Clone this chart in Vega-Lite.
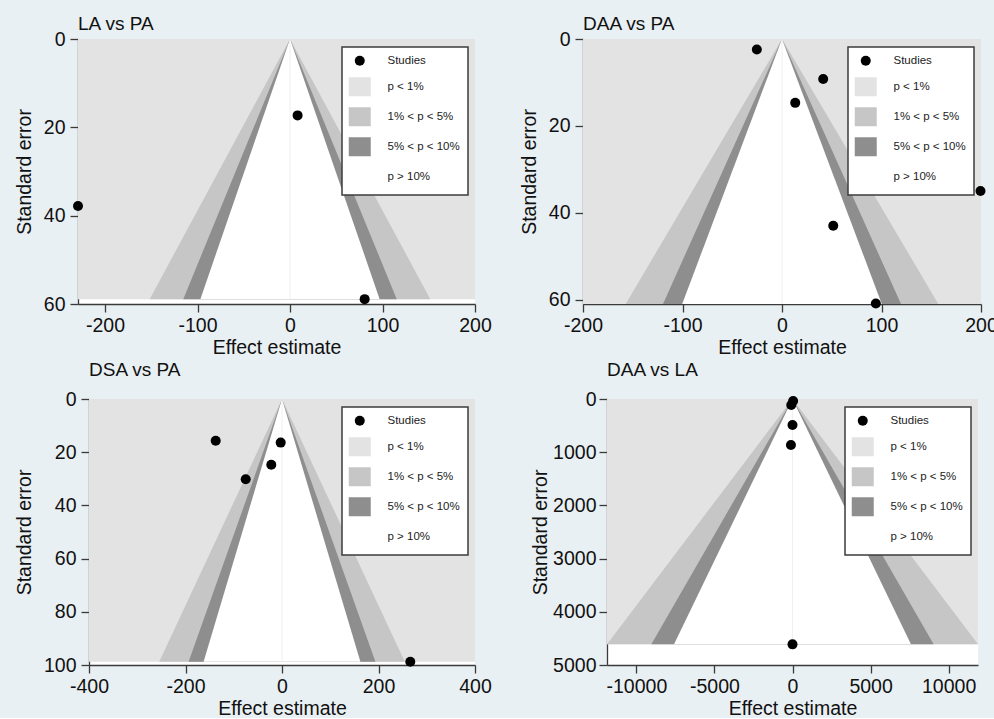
{
  "$schema": "https://vega.github.io/schema/vega-lite/v6.json",
  "background": "#e9f0f3",
  "padding": {"left": 0, "top": 15, "right": 0, "bottom": 0},
  "config": {
    "font": "Liberation Sans",
    "view": {"fill": "white", "stroke": null},
    "locale": {"number": {"decimal": ".", "thousands": "", "grouping": [3], "currency": ["", ""], "minus": "-"}},
    "axis": {
      "domainColor": "#3a3a3a", "tickColor": "#3a3a3a", "domainWidth": 1.3, "tickWidth": 1.3, "tickSize": 8,
      "labelFont": "Liberation Sans", "titleFont": "Liberation Sans",
      "labelFontSize": 19.5, "titleFontSize": 19.5, "labelColor": "#111111", "titleColor": "#111111",
      "titleFontWeight": "normal", "grid": false, "labelFlush": false, "labelOverlap": false, "format": "d"
    },
    "axisX": {"labelPadding": 4, "titlePadding": 4},
    "axisY": {"labelPadding": 5, "titlePadding": 9},
    "title": {"font": "Liberation Sans", "fontSize": 19, "fontWeight": "normal", "anchor": "start", "frame": "group", "color": "#111111", "baseline": "alphabetic"},
    "legend": {
      "orient": "top-right", "offset": 7.5, "title": null,
      "fillColor": "white", "strokeColor": "#3c3c3c", "strokeWidth": 1.5,
      "padding": 8, "rowPadding": 10, "labelOffset": 22, "symbolOffset": 4, "symbolSize": 100, "symbolStrokeWidth": 0,
      "labelFont": "Liberation Sans", "labelFontSize": 11.5, "labelColor": "#222222"
    }
  },
  "columns": 4,
  "align": "none",
  "spacing": {"row": 4, "column": 13},
  "resolve": {
    "scale": {"x": "independent", "y": "independent", "color": "independent", "shape": "independent"},
    "legend": {"color": "independent", "shape": "independent"}
  },
  "concat": [
    {"width": 1, "height": 1, "view": {"fill": null, "stroke": null}, "data": {"values": []}, "mark": "point"},
    {
      "width": 397, "height": 265,
      "title": {"text": "LA vs PA", "offset": -5},
      "data": {"values": [
        {"k": "region", "x": -229.2, "x2": 200, "y": 0, "y2": 58.9},
        {"k": "c99", "y": 0, "x": 0, "x2": 0}, {"k": "c99", "y": 58.9, "x": -151.7, "x2": 151.7},
        {"k": "c95", "y": 0, "x": 0, "x2": 0}, {"k": "c95", "y": 58.9, "x": -115.4, "x2": 115.4},
        {"k": "c90", "y": 0, "x": 0, "x2": 0}, {"k": "c90", "y": 58.9, "x": -96.9, "x2": 96.9},
        {"k": "null", "x": 0, "y": 0, "y2": 58.9},
        {"k": "study", "region": "Studies", "x": -229.2, "y": 37.8},
        {"k": "study", "region": "Studies", "x": 8.2, "y": 17.3},
        {"k": "study", "region": "Studies", "x": 80.7, "y": 58.9}
      ]},
      "encoding": {
        "x": {"field": "x", "type": "quantitative", "title": "Effect estimate",
              "scale": {"domain": [-229.2, 200], "nice": false, "zero": false},
              "axis": {"values": [-200, -100, 0, 100, 200]}},
        "y": {"field": "y", "type": "quantitative", "title": "Standard error",
              "scale": {"domain": [0, 60], "nice": false, "reverse": true},
              "axis": {"values": [0, 20, 40, 60]}}
      },
      "layer": [
        {"transform": [{"filter": "datum.k === 'region'"}], "mark": {"type": "rect", "color": "#e3e3e3"},
         "encoding": {"x2": {"field": "x2"}, "y2": {"field": "y2"}}},
        {"transform": [{"filter": "datum.k === 'c99'"}], "mark": {"type": "area", "orient": "horizontal", "color": "#c6c6c6"},
         "encoding": {"x2": {"field": "x2"}}},
        {"transform": [{"filter": "datum.k === 'c95'"}], "mark": {"type": "area", "orient": "horizontal", "color": "#8e8e8e"},
         "encoding": {"x2": {"field": "x2"}}},
        {"transform": [{"filter": "datum.k === 'c90'"}], "mark": {"type": "area", "orient": "horizontal", "color": "#ffffff"},
         "encoding": {"x2": {"field": "x2"}}},
        {"transform": [{"filter": "datum.k === 'null'"}], "mark": {"type": "rule", "color": "#f0f0f0", "strokeWidth": 1},
         "encoding": {"y2": {"field": "y2"}}},
        {"transform": [{"filter": "datum.k === 'study'"}], "mark": {"type": "point", "filled": true, "opacity": 1, "size": 100},
         "encoding": {
           "color": {"field": "region", "type": "nominal",
                     "scale": {"domain": ["Studies", "p < 1%", "1% < p < 5%", "5% < p < 10%", "p > 10%"], "range": ["#000000", "#e3e3e3", "#c6c6c6", "#8e8e8e", "#ffffff"]}},
           "shape": {"field": "region", "type": "nominal",
                     "scale": {"domain": ["Studies", "p < 1%", "1% < p < 5%", "5% < p < 10%", "p > 10%"], "range": ["circle", "M-2.2,-1.9H2.2V1.9H-2.2Z", "M-2.2,-1.9H2.2V1.9H-2.2Z", "M-2.2,-1.9H2.2V1.9H-2.2Z", "M-2.2,-1.9H2.2V1.9H-2.2Z"]}}
         }}
      ]
    },
    {"width": 1, "height": 1, "view": {"fill": null, "stroke": null}, "data": {"values": []}, "mark": "point"},
    {
      "width": 398, "height": 265,
      "title": {"text": "DAA vs PA", "offset": -5},
      "data": {"values": [
        {"k": "region", "x": -200, "x2": 200, "y": 0, "y2": 61.0},
        {"k": "c99", "y": 0, "x": 0, "x2": 0}, {"k": "c99", "y": 61.0, "x": -157.1, "x2": 157.1},
        {"k": "c95", "y": 0, "x": 0, "x2": 0}, {"k": "c95", "y": 61.0, "x": -119.6, "x2": 119.6},
        {"k": "c90", "y": 0, "x": 0, "x2": 0}, {"k": "c90", "y": 61.0, "x": -100.3, "x2": 100.3},
        {"k": "null", "x": 0, "y": 0, "y2": 61.0},
        {"k": "study", "region": "Studies", "x": -25.3, "y": 2.4},
        {"k": "study", "region": "Studies", "x": 41.4, "y": 9.2},
        {"k": "study", "region": "Studies", "x": 13.3, "y": 14.7},
        {"k": "study", "region": "Studies", "x": 199.5, "y": 35.0},
        {"k": "study", "region": "Studies", "x": 51.5, "y": 43.0},
        {"k": "study", "region": "Studies", "x": 94.3, "y": 60.9}
      ]},
      "encoding": {
        "x": {"field": "x", "type": "quantitative", "title": "Effect estimate",
              "scale": {"domain": [-200, 200], "nice": false, "zero": false},
              "axis": {"values": [-200, -100, 0, 100, 200]}},
        "y": {"field": "y", "type": "quantitative", "title": "Standard error",
              "scale": {"domain": [0, 61], "nice": false, "reverse": true},
              "axis": {"values": [0, 20, 40, 60]}}
      },
      "layer": [
        {"transform": [{"filter": "datum.k === 'region'"}], "mark": {"type": "rect", "color": "#e3e3e3"},
         "encoding": {"x2": {"field": "x2"}, "y2": {"field": "y2"}}},
        {"transform": [{"filter": "datum.k === 'c99'"}], "mark": {"type": "area", "orient": "horizontal", "color": "#c6c6c6"},
         "encoding": {"x2": {"field": "x2"}}},
        {"transform": [{"filter": "datum.k === 'c95'"}], "mark": {"type": "area", "orient": "horizontal", "color": "#8e8e8e"},
         "encoding": {"x2": {"field": "x2"}}},
        {"transform": [{"filter": "datum.k === 'c90'"}], "mark": {"type": "area", "orient": "horizontal", "color": "#ffffff"},
         "encoding": {"x2": {"field": "x2"}}},
        {"transform": [{"filter": "datum.k === 'null'"}], "mark": {"type": "rule", "color": "#f0f0f0", "strokeWidth": 1},
         "encoding": {"y2": {"field": "y2"}}},
        {"transform": [{"filter": "datum.k === 'study'"}], "mark": {"type": "point", "filled": true, "opacity": 1, "size": 100},
         "encoding": {
           "color": {"field": "region", "type": "nominal",
                     "scale": {"domain": ["Studies", "p < 1%", "1% < p < 5%", "5% < p < 10%", "p > 10%"], "range": ["#000000", "#e3e3e3", "#c6c6c6", "#8e8e8e", "#ffffff"]}},
           "shape": {"field": "region", "type": "nominal",
                     "scale": {"domain": ["Studies", "p < 1%", "1% < p < 5%", "5% < p < 10%", "p > 10%"], "range": ["circle", "M-2.2,-1.9H2.2V1.9H-2.2Z", "M-2.2,-1.9H2.2V1.9H-2.2Z", "M-2.2,-1.9H2.2V1.9H-2.2Z", "M-2.2,-1.9H2.2V1.9H-2.2Z"]}}
         }}
      ]
    },
    {"width": 1, "height": 1, "view": {"fill": null, "stroke": null}, "data": {"values": []}, "mark": "point"},
    {
      "width": 386, "height": 266,
      "title": {"text": "DSA vs PA", "offset": 9},
      "data": {"values": [
        {"k": "region", "x": -400, "x2": 400, "y": 0, "y2": 98.8},
        {"k": "c99", "y": 0, "x": 0, "x2": 0}, {"k": "c99", "y": 98.8, "x": -254.5, "x2": 254.5},
        {"k": "c95", "y": 0, "x": 0, "x2": 0}, {"k": "c95", "y": 98.8, "x": -193.6, "x2": 193.6},
        {"k": "c90", "y": 0, "x": 0, "x2": 0}, {"k": "c90", "y": 98.8, "x": -162.5, "x2": 162.5},
        {"k": "null", "x": 0, "y": 0, "y2": 98.8},
        {"k": "study", "region": "Studies", "x": -137.4, "y": 15.7},
        {"k": "study", "region": "Studies", "x": -2.7, "y": 16.4},
        {"k": "study", "region": "Studies", "x": -22.2, "y": 24.7},
        {"k": "study", "region": "Studies", "x": -75.2, "y": 30.2},
        {"k": "study", "region": "Studies", "x": 265.9, "y": 98.8}
      ]},
      "encoding": {
        "x": {"field": "x", "type": "quantitative", "title": "Effect estimate",
              "scale": {"domain": [-400, 400], "nice": false, "zero": false},
              "axis": {"values": [-400, -200, 0, 200, 400]}},
        "y": {"field": "y", "type": "quantitative", "title": "Standard error",
              "scale": {"domain": [0, 100], "nice": false, "reverse": true},
              "axis": {"values": [0, 20, 40, 60, 80, 100]}}
      },
      "layer": [
        {"transform": [{"filter": "datum.k === 'region'"}], "mark": {"type": "rect", "color": "#e3e3e3"},
         "encoding": {"x2": {"field": "x2"}, "y2": {"field": "y2"}}},
        {"transform": [{"filter": "datum.k === 'c99'"}], "mark": {"type": "area", "orient": "horizontal", "color": "#c6c6c6"},
         "encoding": {"x2": {"field": "x2"}}},
        {"transform": [{"filter": "datum.k === 'c95'"}], "mark": {"type": "area", "orient": "horizontal", "color": "#8e8e8e"},
         "encoding": {"x2": {"field": "x2"}}},
        {"transform": [{"filter": "datum.k === 'c90'"}], "mark": {"type": "area", "orient": "horizontal", "color": "#ffffff"},
         "encoding": {"x2": {"field": "x2"}}},
        {"transform": [{"filter": "datum.k === 'null'"}], "mark": {"type": "rule", "color": "#f0f0f0", "strokeWidth": 1},
         "encoding": {"y2": {"field": "y2"}}},
        {"transform": [{"filter": "datum.k === 'study'"}], "mark": {"type": "point", "filled": true, "opacity": 1, "size": 100},
         "encoding": {
           "color": {"field": "region", "type": "nominal",
                     "scale": {"domain": ["Studies", "p < 1%", "1% < p < 5%", "5% < p < 10%", "p > 10%"], "range": ["#000000", "#e3e3e3", "#c6c6c6", "#8e8e8e", "#ffffff"]}},
           "shape": {"field": "region", "type": "nominal",
                     "scale": {"domain": ["Studies", "p < 1%", "1% < p < 5%", "5% < p < 10%", "p > 10%"], "range": ["circle", "M-2.2,-1.9H2.2V1.9H-2.2Z", "M-2.2,-1.9H2.2V1.9H-2.2Z", "M-2.2,-1.9H2.2V1.9H-2.2Z", "M-2.2,-1.9H2.2V1.9H-2.2Z"]}}
         }}
      ]
    },
    {"width": 1, "height": 1, "view": {"fill": null, "stroke": null}, "data": {"values": []}, "mark": "point"},
    {
      "width": 371, "height": 266,
      "title": {"text": "DAA vs LA", "offset": 9},
      "data": {"values": [
        {"k": "region", "x": -11881, "x2": 11881, "y": 0, "y2": 4612},
        {"k": "c99", "y": 0, "x": 0, "x2": 0}, {"k": "c99", "y": 4612, "x": -11881, "x2": 11881},
        {"k": "c95", "y": 0, "x": 0, "x2": 0}, {"k": "c95", "y": 4612, "x": -9040, "x2": 9040},
        {"k": "c90", "y": 0, "x": 0, "x2": 0}, {"k": "c90", "y": 4612, "x": -7587, "x2": 7587},
        {"k": "null", "x": 0, "y": 0, "y2": 4612},
        {"k": "study", "region": "Studies", "x": 40, "y": 38},
        {"k": "study", "region": "Studies", "x": -80, "y": 113},
        {"k": "study", "region": "Studies", "x": 0, "y": 489},
        {"k": "study", "region": "Studies", "x": -100, "y": 865},
        {"k": "study", "region": "Studies", "x": 0, "y": 4612}
      ]},
      "encoding": {
        "x": {"field": "x", "type": "quantitative", "title": "Effect estimate",
              "scale": {"domain": [-11881, 11881], "nice": false, "zero": false},
              "axis": {"values": [-10000, -5000, 0, 5000, 10000]}},
        "y": {"field": "y", "type": "quantitative", "title": "Standard error",
              "scale": {"domain": [0, 5000], "nice": false, "reverse": true},
              "axis": {"values": [0, 1000, 2000, 3000, 4000, 5000], "titlePadding": 2, "labelPadding": 3}}
      },
      "layer": [
        {"transform": [{"filter": "datum.k === 'region'"}], "mark": {"type": "rect", "color": "#e3e3e3"},
         "encoding": {"x2": {"field": "x2"}, "y2": {"field": "y2"}}},
        {"transform": [{"filter": "datum.k === 'c99'"}], "mark": {"type": "area", "orient": "horizontal", "color": "#c6c6c6"},
         "encoding": {"x2": {"field": "x2"}}},
        {"transform": [{"filter": "datum.k === 'c95'"}], "mark": {"type": "area", "orient": "horizontal", "color": "#8e8e8e"},
         "encoding": {"x2": {"field": "x2"}}},
        {"transform": [{"filter": "datum.k === 'c90'"}], "mark": {"type": "area", "orient": "horizontal", "color": "#ffffff"},
         "encoding": {"x2": {"field": "x2"}}},
        {"transform": [{"filter": "datum.k === 'null'"}], "mark": {"type": "rule", "color": "#f0f0f0", "strokeWidth": 1},
         "encoding": {"y2": {"field": "y2"}}},
        {"transform": [{"filter": "datum.k === 'study'"}], "mark": {"type": "point", "filled": true, "opacity": 1, "size": 100},
         "encoding": {
           "color": {"field": "region", "type": "nominal",
                     "scale": {"domain": ["Studies", "p < 1%", "1% < p < 5%", "5% < p < 10%", "p > 10%"], "range": ["#000000", "#e3e3e3", "#c6c6c6", "#8e8e8e", "#ffffff"]}},
           "shape": {"field": "region", "type": "nominal",
                     "scale": {"domain": ["Studies", "p < 1%", "1% < p < 5%", "5% < p < 10%", "p > 10%"], "range": ["circle", "M-2.2,-1.9H2.2V1.9H-2.2Z", "M-2.2,-1.9H2.2V1.9H-2.2Z", "M-2.2,-1.9H2.2V1.9H-2.2Z", "M-2.2,-1.9H2.2V1.9H-2.2Z"]}}
         }}
      ]
    }
  ]
}
